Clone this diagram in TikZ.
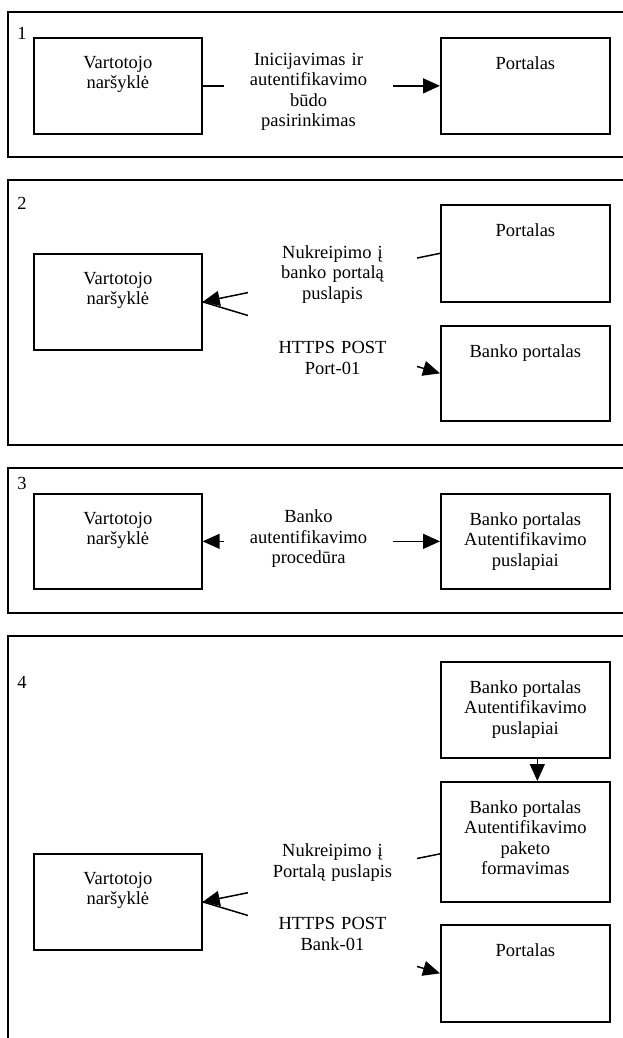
\documentclass[tikz,border=0pt]{standalone}
\usepackage{fontspec}
\setmainfont{Liberation Serif}
\usetikzlibrary{arrows.meta}

\begin{document}
\begin{tikzpicture}[x=1pt,y=-1pt,
  font=\fontsize{18.5}{20.5}\selectfont,
  panel/.style={draw, line width=1.7pt},
  box/.style={draw, line width=1.7pt, inner sep=0pt, anchor=north west,
    minimum width=168pt},
  boxtext/.style={anchor=north, yshift=-19pt, align=center, inner sep=0pt},
  mask/.style={fill=white, inner xsep=0pt, inner ysep=2pt, text width=169pt, align=center},
  num/.style={inner sep=0pt},
  conn/.style={line width=1.5pt, -{Triangle[length=17pt,width=15pt]}},
  connboth/.style={line width=1.5pt, {Triangle[length=17pt,width=15pt]}-{Triangle[length=17pt,width=15pt]}}
]
\useasboundingbox (0,0) rectangle (623,1038);
\clip (0,0) rectangle (623,1038);

% ---------- 1: start of login ----------
\draw[panel] (8,12) rectangle (640,157);
\node[num] (n1) at (22,33) {1};
\node[box, minimum height=96pt, label={[boxtext]north:Vartotojo\\naršyklė}] (b1) at (33,37) {};
\node[box, minimum width=169pt, minimum height=96pt, label={[boxtext]north:Portalas}] (p1) at (440,37) {};
\draw[conn] (b1.east) -- (p1.west);
\node[mask] (m1) at (308.5,92) {Inicijavimas ir\\autentifikavimo\\būdo\\pasirinkimas};

% ---------- 2: redirect to the bank ----------
\draw[panel] (8,180) rectangle (640,445);
\node[num] (n2) at (22,203) {2};
\node[box, minimum height=96pt, label={[boxtext]north:Vartotojo\\naršyklė}] (b2) at (33,253) {};
\node[box, minimum width=169pt, minimum height=97pt, label={[boxtext]north:Portalas}] (p2) at (440,204) {};
\node[box, minimum width=169pt, minimum height=95pt, label={[boxtext]north:Banko portalas}] (bp2) at (440,325) {};
\draw[conn] (p2.west) -- (b2.east);
\draw[conn] (b2.east) -- (bp2.west);
\node[mask, minimum height=144pt] (m2) at (332.5,310)
  {Nukreipimo į\\banko portalą\\puslapis\\[34pt]HTTPS POST\\Port-01};

% ---------- 3: bank authentication ----------
\draw[panel] (8,468) rectangle (640,613);
\node[num] (n3) at (22,483) {3};
\node[box, minimum height=95pt, label={[boxtext]north:Vartotojo\\naršyklė}] (b3) at (33,493) {};
\node[box, minimum width=169pt, minimum height=95pt,
  label={[boxtext]north:Banko portalas\\Autentifikavimo\\puslapiai}] (p3) at (440,493) {};
\draw[connboth] (b3.east) -- (p3.west);
\node[mask] (m3) at (308.5,539) {Banko\\autentifikavimo\\procedūra};

% ---------- 4: return to the portal ----------
\draw[panel] (8,636) rectangle (640,1060);
\node[num] (n4) at (22,682) {4};
\node[box, minimum width=169pt, minimum height=96pt,
  label={[boxtext]north:Banko portalas\\Autentifikavimo\\puslapiai}] (a4) at (440,661) {};
\node[box, minimum width=169pt, minimum height=120pt,
  label={[boxtext]north:Banko portalas\\Autentifikavimo\\paketo\\formavimas}] (f4) at (440,781) {};
\node[box, minimum height=96pt, label={[boxtext]north:Vartotojo\\naršyklė}] (b4) at (33,853) {};
\node[box, minimum width=169pt, minimum height=97pt, label={[boxtext]north:Portalas}] (p4) at (440,924) {};
\draw[conn] ([xshift=12pt]a4.south) -- ([xshift=12pt]f4.north);
\draw[conn] ([yshift=-12pt]f4.west) -- (b4.east);
\draw[conn] (b4.east) -- (p4.west);
\node[mask, minimum height=148pt] (m4) at (332.5,897)
  {Nukreipimo į\\Portalą puslapis\\[32pt]HTTPS POST\\Bank-01};
\end{tikzpicture}
\end{document}
